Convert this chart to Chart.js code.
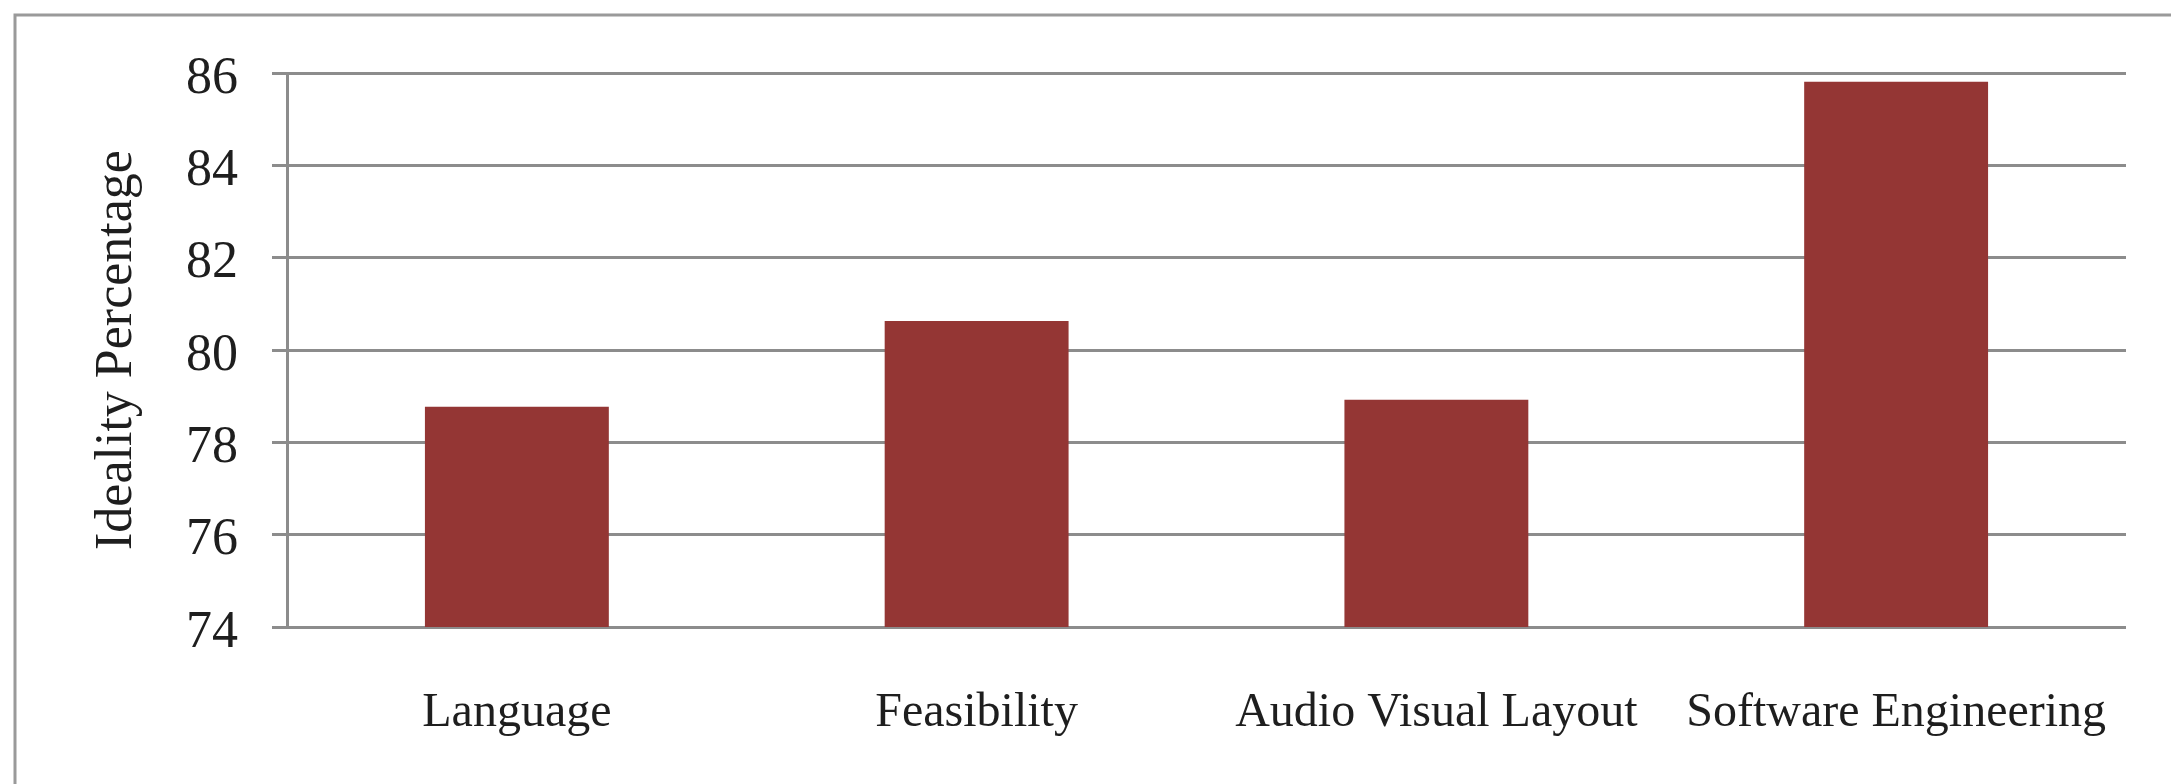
<!DOCTYPE html>
<html>
<head>
<meta charset="utf-8">
<script src="https://cdn.jsdelivr.net/npm/chart.js@4"></script>
<style>
  html, body { margin: 0; padding: 0; background: #fff; }
  #wrap { position: relative; width: 2171px; height: 784px; }
</style>
</head>
<body>
<div id="wrap"><canvas id="chart" width="2171" height="784"></canvas></div>
<script>
const categories = ['Language', 'Feasibility', 'Audio Visual Layout', 'Software Engineering'];
const idealityValues = [78.77, 80.63, 78.92, 85.81];
const yTicks = [74, 76, 78, 80, 82, 84, 86];

const gridGray = '#8c8c8c';
const textColor = '#1e1e1e';

// thin grey frame around the picture (only left and top edges show)
const framePlugin = {
    id: 'frame',
    beforeDraw(chart) {
        const ctx = chart.ctx;
        ctx.save();
        ctx.strokeStyle = '#9a9a9a';
        ctx.lineWidth = 3;
        ctx.beginPath();
        ctx.moveTo(15, chart.height);
        ctx.lineTo(15, 15);
        ctx.lineTo(chart.width, 15);
        ctx.stroke();
        ctx.restore();
    }
};

const ctx = document.getElementById('chart').getContext('2d');
new Chart(ctx, {
    type: 'bar',
    data: {
        labels: categories,
        datasets: [{
            data: idealityValues,
            backgroundColor: '#943634',
            borderWidth: 0,
            barPercentage: 0.4,
            categoryPercentage: 1.0
        }]
    },
    options: {
        responsive: false,
        animation: false,
        devicePixelRatio: 1,
        layout: { padding: { top: 73, right: 45, left: 0, bottom: 0 } },
        plugins: {
            legend: { display: false },
            tooltip: { enabled: false }
        },
        scales: {
            x: {
                grid: { display: false },
                border: { display: false },
                ticks: {
                    color: textColor,
                    padding: 50,
                    maxRotation: 0,
                    autoSkip: false,
                    font: { family: 'Liberation Serif', size: 48 }
                },
                afterFit(scale) { scale.height = 157; }
            },
            y: {
                min: 74,
                max: 86,
                afterBuildTicks(scale) {
                    scale.ticks = yTicks.map(v => ({ value: v }));
                },
                grid: {
                    color: gridGray,
                    lineWidth: 3,
                    tickLength: 15
                },
                border: { color: gridGray, width: 3 },
                ticks: {
                    color: textColor,
                    padding: 34,
                    labelOffset: 6,
                    font: { family: 'Liberation Serif', size: 52 }
                },
                title: {
                    display: true,
                    text: 'Ideality Percentage',
                    color: textColor,
                    padding: { top: 86, bottom: 0 },
                    font: { family: 'Liberation Serif', size: 52, weight: 'normal' }
                },
                afterFit(scale) { scale.width = 287; }
            }
        }
    },
    plugins: [framePlugin]
});
</script>
</body>
</html>
